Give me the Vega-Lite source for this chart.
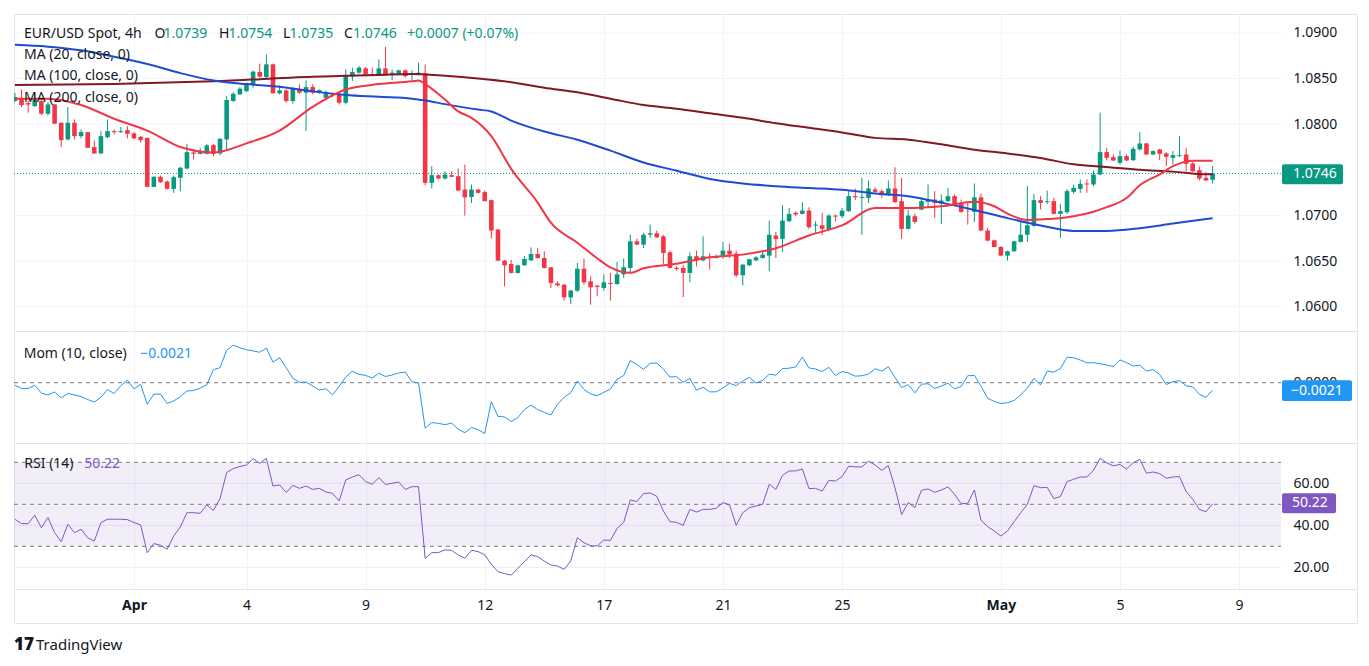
{
"$schema":"https://vega.github.io/schema/vega-lite/v6.json",
"background":"#ffffff",
"padding":{"left":13,"top":13,"right":0,"bottom":0},
"bounds":"flush",
"spacing":0,
"config":{"view":{"stroke":"#e0e3eb","strokeWidth":1},"font":"Noto Sans","text":{"font":"Noto Sans"},"scale":{"continuousPadding":0}},
"datasets":{
"candles":[
{"i":0,"o":1.08254,"h":1.08345,"l":1.0824,"c":1.08298},
{"i":1,"o":1.08279,"h":1.08382,"l":1.08188,"c":1.0821},
{"i":2,"o":1.08232,"h":1.08254,"l":1.08126,"c":1.08217},
{"i":3,"o":1.08199,"h":1.08345,"l":1.08188,"c":1.08272},
{"i":4,"o":1.08254,"h":1.08272,"l":1.081,"c":1.08115},
{"i":5,"o":1.08115,"h":1.08243,"l":1.08096,"c":1.08217},
{"i":6,"o":1.08217,"h":1.08224,"l":1.08005,"c":1.08005},
{"i":7,"o":1.08016,"h":1.08016,"l":1.07749,"c":1.07825},
{"i":8,"o":1.07833,"h":1.08188,"l":1.07825,"c":1.08016},
{"i":9,"o":1.08016,"h":1.08052,"l":1.07833,"c":1.07869},
{"i":10,"o":1.07869,"h":1.07942,"l":1.07844,"c":1.07913},
{"i":11,"o":1.07913,"h":1.07913,"l":1.07741,"c":1.07741},
{"i":12,"o":1.07749,"h":1.07822,"l":1.07675,"c":1.07679},
{"i":13,"o":1.07679,"h":1.07924,"l":1.07675,"c":1.07869},
{"i":14,"o":1.07858,"h":1.08052,"l":1.07844,"c":1.07924},
{"i":15,"o":1.07924,"h":1.07942,"l":1.07888,"c":1.07913},
{"i":16,"o":1.07913,"h":1.07968,"l":1.07906,"c":1.07924},
{"i":17,"o":1.07935,"h":1.07979,"l":1.07844,"c":1.07895},
{"i":18,"o":1.07899,"h":1.07913,"l":1.07833,"c":1.07844},
{"i":19,"o":1.07862,"h":1.07869,"l":1.07796,"c":1.07825},
{"i":20,"o":1.07851,"h":1.07851,"l":1.07313,"c":1.07313},
{"i":21,"o":1.07313,"h":1.0743,"l":1.07309,"c":1.07423},
{"i":22,"o":1.07423,"h":1.07437,"l":1.07357,"c":1.07364},
{"i":23,"o":1.07372,"h":1.07383,"l":1.07284,"c":1.07291},
{"i":24,"o":1.07291,"h":1.07437,"l":1.07247,"c":1.07419},
{"i":25,"o":1.07412,"h":1.07533,"l":1.07266,"c":1.07522},
{"i":26,"o":1.07514,"h":1.07785,"l":1.07507,"c":1.07694},
{"i":27,"o":1.0769,"h":1.07723,"l":1.07613,"c":1.07675},
{"i":28,"o":1.07675,"h":1.07741,"l":1.07668,"c":1.07694},
{"i":29,"o":1.07675,"h":1.07785,"l":1.07668,"c":1.07767},
{"i":30,"o":1.07771,"h":1.07785,"l":1.07649,"c":1.07675},
{"i":31,"o":1.07679,"h":1.07851,"l":1.0766,"c":1.0784},
{"i":32,"o":1.07833,"h":1.08309,"l":1.07723,"c":1.08265},
{"i":33,"o":1.08254,"h":1.08352,"l":1.08246,"c":1.08334},
{"i":34,"o":1.08327,"h":1.08407,"l":1.0832,"c":1.08389},
{"i":35,"o":1.08363,"h":1.08455,"l":1.08352,"c":1.08437},
{"i":36,"o":1.08426,"h":1.0859,"l":1.084,"c":1.08576},
{"i":37,"o":1.08572,"h":1.08664,"l":1.0851,"c":1.08521},
{"i":38,"o":1.08517,"h":1.08766,"l":1.08502,"c":1.08656},
{"i":39,"o":1.08656,"h":1.08664,"l":1.08338,"c":1.08338},
{"i":40,"o":1.08338,"h":1.08426,"l":1.08327,"c":1.08371},
{"i":41,"o":1.08371,"h":1.08382,"l":1.08235,"c":1.08254},
{"i":42,"o":1.08254,"h":1.08407,"l":1.08224,"c":1.08389},
{"i":43,"o":1.08382,"h":1.08437,"l":1.08334,"c":1.08345},
{"i":44,"o":1.08345,"h":1.08481,"l":1.07924,"c":1.08407},
{"i":45,"o":1.08407,"h":1.08437,"l":1.08327,"c":1.08345},
{"i":46,"o":1.08345,"h":1.08382,"l":1.08334,"c":1.08374},
{"i":47,"o":1.0829,"h":1.08371,"l":1.08283,"c":1.08352},
{"i":48,"o":1.08327,"h":1.08345,"l":1.08298,"c":1.0832},
{"i":49,"o":1.08334,"h":1.08345,"l":1.08217,"c":1.08235},
{"i":50,"o":1.08235,"h":1.08601,"l":1.08217,"c":1.08528},
{"i":51,"o":1.08521,"h":1.0862,"l":1.08473,"c":1.08572},
{"i":52,"o":1.08565,"h":1.08638,"l":1.08554,"c":1.0862},
{"i":53,"o":1.08612,"h":1.08627,"l":1.08528,"c":1.08546},
{"i":54,"o":1.08546,"h":1.0862,"l":1.08528,"c":1.08535},
{"i":55,"o":1.08535,"h":1.08711,"l":1.08528,"c":1.08612},
{"i":56,"o":1.08612,"h":1.08847,"l":1.08528,"c":1.08546},
{"i":57,"o":1.08554,"h":1.08601,"l":1.08481,"c":1.08565},
{"i":58,"o":1.08554,"h":1.08598,"l":1.08546,"c":1.0859},
{"i":59,"o":1.0859,"h":1.08601,"l":1.0851,"c":1.08528},
{"i":60,"o":1.08539,"h":1.0859,"l":1.08481,"c":1.08554},
{"i":61,"o":1.08546,"h":1.08675,"l":1.08535,"c":1.08565},
{"i":62,"o":1.08557,"h":1.08656,"l":1.07331,"c":1.07357},
{"i":63,"o":1.07357,"h":1.0754,"l":1.07295,"c":1.07441},
{"i":64,"o":1.07441,"h":1.07448,"l":1.07394,"c":1.07404},
{"i":65,"o":1.07404,"h":1.07485,"l":1.07394,"c":1.07448},
{"i":66,"o":1.07441,"h":1.07485,"l":1.07419,"c":1.07423},
{"i":67,"o":1.0743,"h":1.07514,"l":1.07266,"c":1.07273},
{"i":68,"o":1.07284,"h":1.07558,"l":1.06998,"c":1.07198},
{"i":69,"o":1.07202,"h":1.07339,"l":1.07137,"c":1.07284},
{"i":70,"o":1.07284,"h":1.07291,"l":1.0724,"c":1.07247},
{"i":71,"o":1.07256,"h":1.07273,"l":1.07156,"c":1.07156},
{"i":72,"o":1.07167,"h":1.07174,"l":1.06746,"c":1.06834},
{"i":73,"o":1.06845,"h":1.06852,"l":1.06497,"c":1.06504},
{"i":74,"o":1.06504,"h":1.06511,"l":1.06222,"c":1.06453},
{"i":75,"o":1.06467,"h":1.06511,"l":1.06365,"c":1.06369},
{"i":76,"o":1.06369,"h":1.0646,"l":1.06361,"c":1.06453},
{"i":77,"o":1.06453,"h":1.06552,"l":1.06449,"c":1.06522},
{"i":78,"o":1.06508,"h":1.0665,"l":1.06497,"c":1.06577},
{"i":79,"o":1.06577,"h":1.06643,"l":1.06526,"c":1.06533},
{"i":80,"o":1.06533,"h":1.06607,"l":1.06416,"c":1.06424},
{"i":81,"o":1.06431,"h":1.06435,"l":1.06204,"c":1.06259},
{"i":82,"o":1.06255,"h":1.06277,"l":1.06222,"c":1.06233},
{"i":83,"o":1.0624,"h":1.06248,"l":1.06065,"c":1.06101},
{"i":84,"o":1.06101,"h":1.06186,"l":1.06028,"c":1.06175},
{"i":85,"o":1.06175,"h":1.06479,"l":1.0616,"c":1.06416},
{"i":86,"o":1.06416,"h":1.06526,"l":1.0624,"c":1.06266},
{"i":87,"o":1.06277,"h":1.06333,"l":1.06021,"c":1.06211},
{"i":88,"o":1.06229,"h":1.0624,"l":1.06113,"c":1.06215},
{"i":89,"o":1.06204,"h":1.06354,"l":1.06175,"c":1.06266},
{"i":90,"o":1.06259,"h":1.06369,"l":1.06065,"c":1.06248},
{"i":91,"o":1.06248,"h":1.0649,"l":1.0624,"c":1.06354},
{"i":92,"o":1.06354,"h":1.06526,"l":1.06314,"c":1.06431},
{"i":93,"o":1.06424,"h":1.06788,"l":1.06369,"c":1.06716},
{"i":94,"o":1.06716,"h":1.06746,"l":1.06672,"c":1.0668},
{"i":95,"o":1.0668,"h":1.06808,"l":1.06643,"c":1.06788},
{"i":96,"o":1.06788,"h":1.06899,"l":1.06753,"c":1.06804},
{"i":97,"o":1.06804,"h":1.06834,"l":1.06753,"c":1.0676},
{"i":98,"o":1.06771,"h":1.06788,"l":1.06467,"c":1.06588},
{"i":99,"o":1.06596,"h":1.06614,"l":1.06416,"c":1.06424},
{"i":100,"o":1.06424,"h":1.06442,"l":1.06394,"c":1.06413},
{"i":101,"o":1.06424,"h":1.06453,"l":1.06105,"c":1.06369},
{"i":102,"o":1.06369,"h":1.06596,"l":1.0627,"c":1.06552},
{"i":103,"o":1.06552,"h":1.06614,"l":1.0644,"c":1.06504},
{"i":104,"o":1.06508,"h":1.06771,"l":1.06497,"c":1.06552},
{"i":105,"o":1.06544,"h":1.06588,"l":1.06405,"c":1.06533},
{"i":106,"o":1.06533,"h":1.0657,"l":1.06526,"c":1.06552},
{"i":107,"o":1.06563,"h":1.0671,"l":1.06526,"c":1.06614},
{"i":108,"o":1.06614,"h":1.06687,"l":1.06533,"c":1.0657},
{"i":109,"o":1.06581,"h":1.06614,"l":1.06321,"c":1.06343},
{"i":110,"o":1.06343,"h":1.06471,"l":1.06233,"c":1.0646},
{"i":111,"o":1.06453,"h":1.06526,"l":1.06442,"c":1.06519},
{"i":112,"o":1.06508,"h":1.06552,"l":1.06497,"c":1.06541},
{"i":113,"o":1.06533,"h":1.06607,"l":1.06526,"c":1.0657},
{"i":114,"o":1.06559,"h":1.06943,"l":1.06387,"c":1.06788},
{"i":115,"o":1.06779,"h":1.0682,"l":1.06533,"c":1.06742},
{"i":116,"o":1.06742,"h":1.07112,"l":1.06599,"c":1.06943},
{"i":117,"o":1.06936,"h":1.07082,"l":1.06925,"c":1.07017},
{"i":118,"o":1.07028,"h":1.07046,"l":1.06991,"c":1.0701},
{"i":119,"o":1.07017,"h":1.07145,"l":1.0701,"c":1.07053},
{"i":120,"o":1.07053,"h":1.0709,"l":1.06852,"c":1.0687},
{"i":121,"o":1.06888,"h":1.06936,"l":1.06808,"c":1.06899},
{"i":122,"o":1.06892,"h":1.07028,"l":1.06788,"c":1.06852},
{"i":123,"o":1.06845,"h":1.07017,"l":1.06826,"c":1.06998},
{"i":124,"o":1.06998,"h":1.07009,"l":1.06936,"c":1.06987},
{"i":125,"o":1.06991,"h":1.07082,"l":1.06972,"c":1.07053},
{"i":126,"o":1.07046,"h":1.07273,"l":1.07039,"c":1.07211},
{"i":127,"o":1.07211,"h":1.07295,"l":1.07167,"c":1.07198},
{"i":128,"o":1.07192,"h":1.07412,"l":1.06788,"c":1.07203},
{"i":129,"o":1.07192,"h":1.07383,"l":1.07137,"c":1.07295},
{"i":130,"o":1.07284,"h":1.07309,"l":1.07251,"c":1.07258},
{"i":131,"o":1.07266,"h":1.07284,"l":1.07192,"c":1.07222},
{"i":132,"o":1.07222,"h":1.07383,"l":1.07211,"c":1.07295},
{"i":133,"o":1.07295,"h":1.07529,"l":1.07137,"c":1.07145},
{"i":134,"o":1.07156,"h":1.07412,"l":1.06742,"c":1.06852},
{"i":135,"o":1.06852,"h":1.07064,"l":1.06845,"c":1.06998},
{"i":136,"o":1.06991,"h":1.07017,"l":1.0691,"c":1.06929},
{"i":137,"o":1.07064,"h":1.07198,"l":1.07057,"c":1.07156},
{"i":138,"o":1.07148,"h":1.07339,"l":1.07082,"c":1.07174},
{"i":139,"o":1.07174,"h":1.07266,"l":1.06973,"c":1.07137},
{"i":140,"o":1.0713,"h":1.07229,"l":1.06907,"c":1.07163},
{"i":141,"o":1.07156,"h":1.07302,"l":1.07148,"c":1.07211},
{"i":142,"o":1.07211,"h":1.07229,"l":1.07119,"c":1.07126},
{"i":143,"o":1.07137,"h":1.07174,"l":1.07028,"c":1.07039},
{"i":144,"o":1.0705,"h":1.07137,"l":1.06899,"c":1.07046},
{"i":145,"o":1.07039,"h":1.0735,"l":1.06925,"c":1.07198},
{"i":146,"o":1.07198,"h":1.0724,"l":1.06826,"c":1.06834},
{"i":147,"o":1.06834,"h":1.06863,"l":1.06716,"c":1.06724},
{"i":148,"o":1.06727,"h":1.06735,"l":1.0665,"c":1.06654},
{"i":149,"o":1.06654,"h":1.06661,"l":1.06552,"c":1.06559},
{"i":150,"o":1.06559,"h":1.06614,"l":1.06504,"c":1.06607},
{"i":151,"o":1.06607,"h":1.06724,"l":1.066,"c":1.06716},
{"i":152,"o":1.0671,"h":1.06925,"l":1.06702,"c":1.06788},
{"i":153,"o":1.06788,"h":1.0732,"l":1.0671,"c":1.06892},
{"i":154,"o":1.06885,"h":1.07236,"l":1.06874,"c":1.07167},
{"i":155,"o":1.07167,"h":1.07211,"l":1.07064,"c":1.07137},
{"i":156,"o":1.07145,"h":1.07273,"l":1.07126,"c":1.07156},
{"i":157,"o":1.07156,"h":1.07192,"l":1.0701,"c":1.07017},
{"i":158,"o":1.07017,"h":1.07126,"l":1.06753,"c":1.07046},
{"i":159,"o":1.07035,"h":1.07291,"l":1.07017,"c":1.07266},
{"i":160,"o":1.07258,"h":1.07339,"l":1.07236,"c":1.07302},
{"i":161,"o":1.07291,"h":1.07394,"l":1.07247,"c":1.07346},
{"i":162,"o":1.0735,"h":1.07394,"l":1.07247,"c":1.07339},
{"i":163,"o":1.07339,"h":1.07492,"l":1.0732,"c":1.07448},
{"i":164,"o":1.07448,"h":1.08126,"l":1.07441,"c":1.07694},
{"i":165,"o":1.07694,"h":1.07741,"l":1.07602,"c":1.07631},
{"i":166,"o":1.07639,"h":1.07668,"l":1.07595,"c":1.07602},
{"i":167,"o":1.07577,"h":1.07712,"l":1.07558,"c":1.0765},
{"i":168,"o":1.0765,"h":1.07668,"l":1.07595,"c":1.07602},
{"i":169,"o":1.07606,"h":1.07752,"l":1.07595,"c":1.0773},
{"i":170,"o":1.07723,"h":1.07913,"l":1.07712,"c":1.07789},
{"i":171,"o":1.07789,"h":1.07796,"l":1.0766,"c":1.07668},
{"i":172,"o":1.07668,"h":1.07712,"l":1.0766,"c":1.07705},
{"i":173,"o":1.07723,"h":1.0773,"l":1.07606,"c":1.07675},
{"i":174,"o":1.07679,"h":1.07694,"l":1.0754,"c":1.07642},
{"i":175,"o":1.07631,"h":1.07705,"l":1.07558,"c":1.0766},
{"i":176,"o":1.0765,"h":1.07869,"l":1.07639,"c":1.0766},
{"i":177,"o":1.07668,"h":1.07741,"l":1.07485,"c":1.07565},
{"i":178,"o":1.07569,"h":1.07588,"l":1.07478,"c":1.07485},
{"i":179,"o":1.07496,"h":1.07533,"l":1.07383,"c":1.07404},
{"i":180,"o":1.07412,"h":1.07478,"l":1.07375,"c":1.07383},
{"i":181,"o":1.0739,"h":1.0754,"l":1.0735,"c":1.0746}
],
"ma":[
{"s":"MA200","i":0,"v":1.0843},{"s":"MA200","i":15,"v":1.0844},{"s":"MA200","i":30,"v":1.0847},{"s":"MA200","i":45,"v":1.0852},{"s":"MA200","i":50,"v":1.0853},{"s":"MA200","i":55,"v":1.0854},{"s":"MA200","i":60,"v":1.0855},{"s":"MA200","i":65,"v":1.0853},{"s":"MA200","i":70,"v":1.085},{"s":"MA200","i":75,"v":1.0846},{"s":"MA200","i":80,"v":1.084},{"s":"MA200","i":85,"v":1.0835},{"s":"MA200","i":90,"v":1.0828},{"s":"MA200","i":95,"v":1.0821},{"s":"MA200","i":100,"v":1.0817},{"s":"MA200","i":105,"v":1.0812},{"s":"MA200","i":110,"v":1.0807},{"s":"MA200","i":115,"v":1.0801},{"s":"MA200","i":120,"v":1.0796},{"s":"MA200","i":125,"v":1.0791},{"s":"MA200","i":130,"v":1.0785},{"s":"MA200","i":135,"v":1.0783},{"s":"MA200","i":140,"v":1.0778},{"s":"MA200","i":145,"v":1.0772},{"s":"MA200","i":150,"v":1.0768},{"s":"MA200","i":155,"v":1.0763},{"s":"MA200","i":160,"v":1.0756},{"s":"MA200","i":165,"v":1.0753},{"s":"MA200","i":170,"v":1.075},{"s":"MA200","i":175,"v":1.0748},{"s":"MA200","i":180,"v":1.0745},{"s":"MA200","i":181,"v":1.0745},
{"s":"MA100","i":0,"v":1.0887},{"s":"MA100","i":5,"v":1.0885},{"s":"MA100","i":10,"v":1.0881},{"s":"MA100","i":15,"v":1.0874},{"s":"MA100","i":20,"v":1.0866},{"s":"MA100","i":25,"v":1.0856},{"s":"MA100","i":30,"v":1.0848},{"s":"MA100","i":35,"v":1.0844},{"s":"MA100","i":40,"v":1.0841},{"s":"MA100","i":45,"v":1.0836},{"s":"MA100","i":50,"v":1.0832},{"s":"MA100","i":55,"v":1.083},{"s":"MA100","i":60,"v":1.0828},{"s":"MA100","i":62,"v":1.0826},{"s":"MA100","i":65,"v":1.0822},{"s":"MA100","i":70,"v":1.0816},{"s":"MA100","i":72,"v":1.0814},{"s":"MA100","i":75,"v":1.0804},{"s":"MA100","i":80,"v":1.0792},{"s":"MA100","i":85,"v":1.0783},{"s":"MA100","i":90,"v":1.0771},{"s":"MA100","i":95,"v":1.0758},{"s":"MA100","i":100,"v":1.0749},{"s":"MA100","i":105,"v":1.074},{"s":"MA100","i":110,"v":1.0735},{"s":"MA100","i":115,"v":1.0732},{"s":"MA100","i":120,"v":1.073},{"s":"MA100","i":125,"v":1.0728},{"s":"MA100","i":130,"v":1.0724},{"s":"MA100","i":135,"v":1.0721},{"s":"MA100","i":140,"v":1.0714},{"s":"MA100","i":145,"v":1.0706},{"s":"MA100","i":150,"v":1.0697},{"s":"MA100","i":155,"v":1.0689},{"s":"MA100","i":160,"v":1.0683},{"s":"MA100","i":165,"v":1.0683},{"s":"MA100","i":170,"v":1.0686},{"s":"MA100","i":175,"v":1.0691},{"s":"MA100","i":180,"v":1.0696},{"s":"MA100","i":181,"v":1.0697},
{"s":"MA20","i":0,"v":1.0828},{"s":"MA20","i":5,"v":1.0828},{"s":"MA20","i":10,"v":1.0821},{"s":"MA20","i":15,"v":1.0806},{"s":"MA20","i":20,"v":1.0793},{"s":"MA20","i":25,"v":1.0775},{"s":"MA20","i":30,"v":1.0769},{"s":"MA20","i":35,"v":1.0779},{"s":"MA20","i":40,"v":1.0793},{"s":"MA20","i":45,"v":1.0819},{"s":"MA20","i":50,"v":1.0838},{"s":"MA20","i":55,"v":1.0844},{"s":"MA20","i":60,"v":1.0847},{"s":"MA20","i":61,"v":1.0848},{"s":"MA20","i":62,"v":1.0844},{"s":"MA20","i":65,"v":1.0827},{"s":"MA20","i":67,"v":1.0814},{"s":"MA20","i":69,"v":1.0807},{"s":"MA20","i":72,"v":1.0787},{"s":"MA20","i":75,"v":1.0751},{"s":"MA20","i":79,"v":1.0714},{"s":"MA20","i":81,"v":1.0692},{"s":"MA20","i":85,"v":1.067},{"s":"MA20","i":88,"v":1.0653},{"s":"MA20","i":90,"v":1.0643},{"s":"MA20","i":93,"v":1.0637},{"s":"MA20","i":95,"v":1.0642},{"s":"MA20","i":100,"v":1.0647},{"s":"MA20","i":105,"v":1.0654},{"s":"MA20","i":110,"v":1.0657},{"s":"MA20","i":115,"v":1.0664},{"s":"MA20","i":120,"v":1.0678},{"s":"MA20","i":125,"v":1.0689},{"s":"MA20","i":130,"v":1.0708},{"s":"MA20","i":135,"v":1.0708},{"s":"MA20","i":140,"v":1.071},{"s":"MA20","i":145,"v":1.0715},{"s":"MA20","i":148,"v":1.071},{"s":"MA20","i":150,"v":1.0702},{"s":"MA20","i":153,"v":1.0695},{"s":"MA20","i":156,"v":1.0696},{"s":"MA20","i":158,"v":1.0697},{"s":"MA20","i":160,"v":1.0699},{"s":"MA20","i":163,"v":1.0704},{"s":"MA20","i":165,"v":1.0709},{"s":"MA20","i":168,"v":1.0719},{"s":"MA20","i":170,"v":1.0733},{"s":"MA20","i":173,"v":1.0745},{"s":"MA20","i":175,"v":1.0754},{"s":"MA20","i":178,"v":1.076},{"s":"MA20","i":181,"v":1.076}
],
"mom":[
{"i":0,"m":-0.0007},{"i":1,"m":-0.0016},{"i":2,"m":-0.0016},{"i":3,"m":-0.0007},{"i":4,"m":-0.0029},{"i":5,"m":-0.0034},{"i":6,"m":-0.0026},{"i":7,"m":-0.0042},{"i":8,"m":-0.003},{"i":9,"m":-0.0034},
{"i":10,"m":-0.00385},{"i":11,"m":-0.00469},{"i":12,"m":-0.00538},{"i":13,"m":-0.00403},{"i":14,"m":-0.00191},{"i":15,"m":-0.00304},{"i":16,"m":-0.00081},{"i":17,"m":0.0007},{"i":18,"m":-0.00172},{"i":19,"m":-0.00044},
{"i":20,"m":-0.006},{"i":21,"m":-0.00318},{"i":22,"m":-0.00315},{"i":23,"m":-0.00578},{"i":24,"m":-0.00505},{"i":25,"m":-0.00391},{"i":26,"m":-0.0023},{"i":27,"m":-0.0022},{"i":28,"m":-0.0015},{"i":29,"m":-0.00058},
{"i":30,"m":0.00362},{"i":31,"m":0.00417},{"i":32,"m":0.00901},{"i":33,"m":0.01043},{"i":34,"m":0.0097},{"i":35,"m":0.00915},{"i":36,"m":0.00882},{"i":37,"m":0.00846},{"i":38,"m":0.00962},{"i":39,"m":0.00571},
{"i":40,"m":0.00696},{"i":41,"m":0.00414},{"i":42,"m":0.00124},{"i":43,"m":0.00011},{"i":44,"m":0.00018},{"i":45,"m":-0.00092},{"i":46,"m":-0.00202},{"i":47,"m":-0.00169},{"i":48,"m":-0.00336},{"i":49,"m":-0.00103},
{"i":50,"m":0.00157},{"i":51,"m":0.00318},{"i":52,"m":0.00231},{"i":53,"m":0.00201},{"i":54,"m":0.00128},{"i":55,"m":0.00267},{"i":56,"m":0.00172},{"i":57,"m":0.00213},{"i":58,"m":0.0027},{"i":59,"m":0.00293},
{"i":60,"m":0.00026},{"i":61,"m":-0.00007},{"i":62,"m":-0.01263},{"i":63,"m":-0.01105},{"i":64,"m":-0.01131},{"i":65,"m":-0.01164},{"i":66,"m":-0.01123},{"i":67,"m":-0.01292},{"i":68,"m":-0.01392},{"i":69,"m":-0.01244},
{"i":70,"m":-0.01307},{"i":71,"m":-0.01409},{"i":72,"m":-0.00523},{"i":73,"m":-0.00937},{"i":74,"m":-0.00951},{"i":75,"m":-0.01079},{"i":76,"m":-0.0097},{"i":77,"m":-0.00751},{"i":78,"m":-0.00621},{"i":79,"m":-0.00751},
{"i":80,"m":-0.00823},{"i":81,"m":-0.00897},{"i":82,"m":-0.00601},{"i":83,"m":-0.00403},{"i":84,"m":-0.00278},{"i":85,"m":0.00047},{"i":86,"m":-0.00187},{"i":87,"m":-0.00311},{"i":88,"m":-0.00362},{"i":89,"m":-0.00267},
{"i":90,"m":-0.00176},{"i":91,"m":0.00095},{"i":92,"m":0.00198},{"i":93,"m":0.00615},{"i":94,"m":0.00505},{"i":95,"m":0.00372},{"i":96,"m":0.00538},{"i":97,"m":0.00549},{"i":98,"m":0.00373},{"i":99,"m":0.00158},
{"i":100,"m":0.00165},{"i":101,"m":0.00015},{"i":102,"m":0.00121},{"i":103,"m":-0.00212},{"i":104,"m":-0.00128},{"i":105,"m":-0.00255},{"i":106,"m":-0.00252},{"i":107,"m":-0.00146},{"i":108,"m":-0.00018},{"i":109,"m":-0.00081},
{"i":110,"m":0.00047},{"i":111,"m":0.0015},{"i":112,"m":-0.00011},{"i":113,"m":0.00066},{"i":114,"m":0.00236},{"i":115,"m":0.00209},{"i":116,"m":0.00391},{"i":117,"m":0.00403},{"i":118,"m":0.0044},{"i":119,"m":0.0071},
{"i":120,"m":0.0041},{"i":121,"m":0.0038},{"i":122,"m":0.00311},{"i":123,"m":0.00428},{"i":124,"m":0.00199},{"i":125,"m":0.00311},{"i":126,"m":0.00268},{"i":127,"m":0.00181},{"i":128,"m":0.00193},{"i":129,"m":0.00242},
{"i":130,"m":0.00388},{"i":131,"m":0.00323},{"i":132,"m":0.00443},{"i":133,"m":0.00147},{"i":134,"m":-0.00135},{"i":135,"m":-0.00055},{"i":136,"m":-0.00282},{"i":137,"m":-0.00042},{"i":138,"m":-0.00029},{"i":139,"m":-0.00158},
{"i":140,"m":-0.00095},{"i":141,"m":-0.00011},{"i":142,"m":-0.00169},{"i":143,"m":-0.00106},{"i":144,"m":0.00194},{"i":145,"m":0.002},{"i":146,"m":-0.00095},{"i":147,"m":-0.00432},{"i":148,"m":-0.0052},{"i":149,"m":-0.00578},
{"i":150,"m":-0.00556},{"i":151,"m":-0.00495},{"i":152,"m":-0.00338},{"i":153,"m":-0.00147},{"i":154,"m":0.00121},{"i":155,"m":-0.00061},{"i":156,"m":0.00322},{"i":157,"m":0.00293},{"i":158,"m":0.00392},{"i":159,"m":0.00707},
{"i":160,"m":0.00695},{"i":161,"m":0.0063},{"i":162,"m":0.00551},{"i":163,"m":0.00556},{"i":164,"m":0.00527},{"i":165,"m":0.00494},{"i":166,"m":0.00446},{"i":167,"m":0.00633},{"i":168,"m":0.00556},{"i":169,"m":0.00464},
{"i":170,"m":0.00487},{"i":171,"m":0.00322},{"i":172,"m":0.00366},{"i":173,"m":0.00227},{"i":174,"m":-0.00052},{"i":175,"m":0.00029},{"i":176,"m":0.00058},{"i":177,"m":-0.00085},{"i":178,"m":-0.00117},{"i":179,"m":-0.00326},
{"i":180,"m":-0.00406},{"i":181,"m":-0.0021}
],
"rsi":[
{"i":0,"r":42.9},{"i":1,"r":40.8},{"i":2,"r":40.8},{"i":3,"r":44.8},{"i":4,"r":38.9},{"i":5,"r":43.7},{"i":6,"r":36.5},{"i":7,"r":32.2},{"i":8,"r":40.5},{"i":9,"r":36.5},
{"i":10,"r":38.1},{"i":11,"r":34.1},{"i":12,"r":32.5},{"i":13,"r":41.3},{"i":14,"r":42.9},{"i":15,"r":42.9},{"i":16,"r":42.9},{"i":17,"r":42.7},{"i":18,"r":41.3},{"i":19,"r":40.2},
{"i":20,"r":27.0},{"i":21,"r":31.3},{"i":22,"r":30.5},{"i":23,"r":28.6},{"i":24,"r":34.9},{"i":25,"r":39.2},{"i":26,"r":46.0},{"i":27,"r":46.0},{"i":28,"r":45.7},{"i":29,"r":49.7},
{"i":30,"r":47.1},{"i":31,"r":52.7},{"i":32,"r":65.1},{"i":33,"r":67.0},{"i":34,"r":68.0},{"i":35,"r":68.7},{"i":36,"r":71.7},{"i":37,"r":69.5},{"i":38,"r":71.9},{"i":39,"r":58.7},
{"i":40,"r":59.2},{"i":41,"r":55.6},{"i":42,"r":59.0},{"i":43,"r":57.6},{"i":44,"r":58.7},{"i":45,"r":57.1},{"i":46,"r":57.6},{"i":47,"r":55.9},{"i":48,"r":55.2},{"i":49,"r":51.6},
{"i":50,"r":61.6},{"i":51,"r":63.0},{"i":52,"r":64.1},{"i":53,"r":60.8},{"i":54,"r":59.5},{"i":55,"r":62.7},{"i":56,"r":59.5},{"i":57,"r":60.0},{"i":58,"r":60.6},{"i":59,"r":57.1},
{"i":60,"r":58.4},{"i":61,"r":58.4},{"i":62,"r":24.3},{"i":63,"r":27.0},{"i":64,"r":27.0},{"i":65,"r":28.3},{"i":66,"r":28.1},{"i":67,"r":25.9},{"i":68,"r":24.3},{"i":69,"r":28.1},
{"i":70,"r":27.5},{"i":71,"r":25.9},{"i":72,"r":21.5},{"i":73,"r":17.9},{"i":74,"r":17.0},{"i":75,"r":16.3},{"i":76,"r":19.5},{"i":77,"r":22.7},{"i":78,"r":25.9},{"i":79,"r":25.1},
{"i":80,"r":23.0},{"i":81,"r":21.1},{"i":82,"r":20.6},{"i":83,"r":19.0},{"i":84,"r":23.0},{"i":85,"r":34.1},{"i":86,"r":31.7},{"i":87,"r":30.2},{"i":88,"r":30.2},{"i":89,"r":33.0},
{"i":90,"r":32.8},{"i":91,"r":38.5},{"i":92,"r":41.3},{"i":93,"r":52.1},{"i":94,"r":51.3},{"i":95,"r":55.1},{"i":96,"r":55.4},{"i":97,"r":53.8},{"i":98,"r":46.8},{"i":99,"r":41.7},
{"i":100,"r":41.4},{"i":101,"r":40.0},{"i":102,"r":47.6},{"i":103,"r":46.3},{"i":104,"r":47.6},{"i":105,"r":47.6},{"i":106,"r":48.1},{"i":107,"r":50.8},{"i":108,"r":49.7},{"i":109,"r":40.0},
{"i":110,"r":46.0},{"i":111,"r":48.4},{"i":112,"r":49.2},{"i":113,"r":50.0},{"i":114,"r":59.5},{"i":115,"r":57.1},{"i":116,"r":63.8},{"i":117,"r":65.9},{"i":118,"r":65.9},{"i":119,"r":66.8},
{"i":120,"r":57.5},{"i":121,"r":57.6},{"i":122,"r":56.3},{"i":123,"r":61.4},{"i":124,"r":61.1},{"i":125,"r":63.2},{"i":126,"r":68.1},{"i":127,"r":67.8},{"i":128,"r":67.8},{"i":129,"r":70.6},
{"i":130,"r":68.7},{"i":131,"r":66.2},{"i":132,"r":68.4},{"i":133,"r":57.9},{"i":134,"r":45.1},{"i":135,"r":50.8},{"i":136,"r":48.4},{"i":137,"r":56.7},{"i":138,"r":57.3},{"i":139,"r":55.7},
{"i":140,"r":56.8},{"i":141,"r":58.3},{"i":142,"r":54.8},{"i":143,"r":50.3},{"i":144,"r":50.5},{"i":145,"r":56.8},{"i":146,"r":42.4},{"i":147,"r":39.4},{"i":148,"r":37.3},{"i":149,"r":34.9},
{"i":150,"r":37.3},{"i":151,"r":41.7},{"i":152,"r":46.0},{"i":153,"r":50.0},{"i":154,"r":58.9},{"i":155,"r":57.9},{"i":156,"r":58.1},{"i":157,"r":52.7},{"i":158,"r":53.7},{"i":159,"r":60.8},
{"i":160,"r":61.9},{"i":161,"r":63.0},{"i":162,"r":63.0},{"i":163,"r":66.2},{"i":164,"r":71.9},{"i":165,"r":69.7},{"i":166,"r":68.3},{"i":167,"r":69.0},{"i":168,"r":66.8},{"i":169,"r":69.8},
{"i":170,"r":71.4},{"i":171,"r":64.8},{"i":172,"r":65.4},{"i":173,"r":64.6},{"i":174,"r":62.4},{"i":175,"r":63.0},{"i":176,"r":63.2},{"i":177,"r":56.0},{"i":178,"r":52.4},{"i":179,"r":47.5},
{"i":180,"r":46.5},{"i":181,"r":50.22}
]
},
"vconcat":[
{
"width":1343,"height":317,
"resolve":{"axis":{"x":"independent","y":"independent"}},
"layer":[
{"data":{"values":[{"p":1.06},{"p":1.065},{"p":1.07},{"p":1.075},{"p":1.08},{"p":1.085},{"p":1.09}]},
 "mark":{"type":"rule","color":"#f0f3fa","strokeWidth":1},
 "encoding":{"x":{"datum":-0.136,"type":"quantitative","scale":{"domain":[-0.136,202.82],"nice":false,"zero":false,"padding":0},"axis":null},"x2":{"datum":191.34},
  "y":{"field":"p","type":"quantitative","scale":{"domain":[1.057325,1.092083],"nice":false,"zero":false},
   "axis":{"orient":"right","offset":-76,"values":[1.06,1.065,1.07,1.08,1.085,1.09],"format":".4f","grid":false,"ticks":false,"domain":false,"labelPadding":12,"labelAlign":"left","labelBaseline":"middle","labelColor":"#131722","labelFontSize":14,"labelFont":"Noto Sans","title":null}}}},
{"data":{"values":[{}]},
 "mark":{"type":"rule","color":"#089981","strokeDash":[1,2],"strokeWidth":1},
 "encoding":{"x":{"datum":-0.136,"type":"quantitative","axis":null},"x2":{"datum":191.34},
  "y":{"datum":1.0746,"type":"quantitative","axis":null}}},
{"data":{"name":"candles"},
 "mark":{"type":"rule","strokeWidth":1,"clip":true},
 "encoding":{"x":{"field":"i","type":"quantitative","scale":{"domain":[-0.136,202.82],"nice":false,"zero":false,"padding":0},
   "axis":{"values":[18,35,53,71,89,107,125,149,167,185],"grid":true,"gridColor":"#f0f3fa","labels":false,"ticks":false,"domain":false,"title":null}},
  "y":{"field":"l","type":"quantitative","axis":null},
  "y2":{"field":"h"},
  "color":{"condition":{"test":"datum.c >= datum.o","value":"#089981"},"value":"#F23645"}}},
{"data":{"name":"candles"},
 "mark":{"type":"bar","width":4.6,"clip":true},
 "encoding":{"x":{"field":"i","type":"quantitative","scale":{"domain":[-0.136,202.82],"nice":false,"zero":false,"padding":0},"axis":null},
  "y":{"field":"o","type":"quantitative","axis":null},
  "y2":{"field":"c"},
  "color":{"condition":{"test":"datum.c >= datum.o","value":"#089981"},"value":"#F23645"}}},
{"data":{"name":"ma"},
 "mark":{"type":"line","strokeWidth":2,"interpolate":"monotone","clip":true},
 "encoding":{"x":{"field":"i","type":"quantitative","axis":null},
  "y":{"field":"v","type":"quantitative","axis":null},
  "color":{"field":"s","type":"nominal","scale":{"domain":["MA200","MA100","MA20"],"range":["#801922","#1E4BD2","#F23645"]},"legend":null}}},
{"data":{"values":[{}]},"mark":{"type":"text","align":"left","baseline":"middle","fontSize":14,"color":"#131722","text":"EUR/USD Spot, 4h"},
 "encoding":{"x":{"datum":1.375,"type":"quantitative","axis":null},"y":{"datum":1.08989,"type":"quantitative","axis":null}}},
{"data":{"values":[{}]},"mark":{"type":"text","align":"left","baseline":"middle","fontSize":14,"color":"#131722","text":"O"},
 "encoding":{"x":{"datum":21.11,"type":"quantitative","axis":null},"y":{"datum":1.08989,"type":"quantitative","axis":null}}},
{"data":{"values":[{}]},"mark":{"type":"text","align":"left","baseline":"middle","fontSize":14,"color":"#089981","text":"1.0739"},
 "encoding":{"x":{"datum":22.46,"type":"quantitative","axis":null},"y":{"datum":1.08989,"type":"quantitative","axis":null}}},
{"data":{"values":[{}]},"mark":{"type":"text","align":"left","baseline":"middle","fontSize":14,"color":"#131722","text":"H"},
 "encoding":{"x":{"datum":30.84,"type":"quantitative","axis":null},"y":{"datum":1.08989,"type":"quantitative","axis":null}}},
{"data":{"values":[{}]},"mark":{"type":"text","align":"left","baseline":"middle","fontSize":14,"color":"#089981","text":"1.0754"},
 "encoding":{"x":{"datum":32.28,"type":"quantitative","axis":null},"y":{"datum":1.08989,"type":"quantitative","axis":null}}},
{"data":{"values":[{}]},"mark":{"type":"text","align":"left","baseline":"middle","fontSize":14,"color":"#131722","text":"L"},
 "encoding":{"x":{"datum":40.52,"type":"quantitative","axis":null},"y":{"datum":1.08989,"type":"quantitative","axis":null}}},
{"data":{"values":[{}]},"mark":{"type":"text","align":"left","baseline":"middle","fontSize":14,"color":"#089981","text":"1.0735"},
 "encoding":{"x":{"datum":41.51,"type":"quantitative","axis":null},"y":{"datum":1.08989,"type":"quantitative","axis":null}}},
{"data":{"values":[{}]},"mark":{"type":"text","align":"left","baseline":"middle","fontSize":14,"color":"#131722","text":"C"},
 "encoding":{"x":{"datum":49.74,"type":"quantitative","axis":null},"y":{"datum":1.08989,"type":"quantitative","axis":null}}},
{"data":{"values":[{}]},"mark":{"type":"text","align":"left","baseline":"middle","fontSize":14,"color":"#089981","text":"1.0746"},
 "encoding":{"x":{"datum":51.1,"type":"quantitative","axis":null},"y":{"datum":1.08989,"type":"quantitative","axis":null}}},
{"data":{"values":[{}]},"mark":{"type":"text","align":"left","baseline":"middle","fontSize":14,"color":"#089981","text":"+0.0007 (+0.07%)"},
 "encoding":{"x":{"datum":59.25,"type":"quantitative","axis":null},"y":{"datum":1.08989,"type":"quantitative","axis":null}}},
{"data":{"values":[{}]},"mark":{"type":"text","align":"left","baseline":"middle","fontSize":14,"color":"#131722","text":"MA (20, close, 0)"},
 "encoding":{"x":{"datum":1.375,"type":"quantitative","axis":null},"y":{"datum":1.08759,"type":"quantitative","axis":null}}},
{"data":{"values":[{}]},"mark":{"type":"text","align":"left","baseline":"middle","fontSize":14,"color":"#131722","text":"MA (100, close, 0)"},
 "encoding":{"x":{"datum":1.375,"type":"quantitative","axis":null},"y":{"datum":1.08529,"type":"quantitative","axis":null}}},
{"data":{"values":[{}]},"mark":{"type":"text","align":"left","baseline":"middle","fontSize":14,"color":"#131722","text":"MA (200, close, 0)"},
 "encoding":{"x":{"datum":1.375,"type":"quantitative","axis":null},"y":{"datum":1.08287,"type":"quantitative","axis":null}}},
{"data":{"values":[{}]},"mark":{"type":"rect","color":"#089981","cornerRadius":2},
 "encoding":{"x":{"datum":191.49,"type":"quantitative","axis":null},"x2":{"datum":200.71},"y":{"datum":1.07341,"type":"quantitative","axis":null},"y2":{"datum":1.0756}}},
{"data":{"values":[{}]},"mark":{"type":"text","align":"left","baseline":"middle","fontSize":14,"color":"#ffffff","text":"1.0746"},
 "encoding":{"x":{"datum":193.15,"type":"quantitative","axis":null},"y":{"datum":1.07451,"type":"quantitative","axis":null}}}
]
},
{
"width":1343,"height":112,
"resolve":{"axis":{"x":"independent","y":"independent"}},
"layer":[
{"data":{"values":[{}]},
 "mark":{"type":"rule","color":"#787B86","strokeDash":[4,4],"strokeWidth":1},
 "encoding":{"x":{"datum":-0.136,"type":"quantitative","scale":{"domain":[-0.136,202.82],"nice":false,"zero":false,"padding":0},"axis":null},"x2":{"datum":191.34},
  "y":{"datum":0,"type":"quantitative","scale":{"domain":[-0.01675,0.01436],"nice":false,"zero":false},"axis":null}}},
{"data":{"name":"mom"},
 "mark":{"type":"line","color":"#2196F3","strokeWidth":1,"clip":true},
 "encoding":{"x":{"field":"i","type":"quantitative","scale":{"domain":[-0.136,202.82],"nice":false,"zero":false,"padding":0},
   "axis":{"values":[18,35,53,71,89,107,125,149,167,185],"grid":true,"gridColor":"#f0f3fa","labels":false,"ticks":false,"domain":false,"title":null}},
  "y":{"field":"m","type":"quantitative","scale":{"domain":[-0.01675,0.01436],"nice":false,"zero":false},
   "axis":{"orient":"right","offset":-76,"values":[0],"format":".4f","grid":false,"ticks":false,"domain":false,"labelPadding":12,"labelAlign":"left","labelBaseline":"middle","labelColor":"#131722","labelFontSize":14,"labelFont":"Noto Sans","title":null}}}},
{"data":{"values":[{}]},"mark":{"type":"text","align":"left","baseline":"middle","fontSize":14,"color":"#131722","text":"Mom (10, close)"},
 "encoding":{"x":{"datum":1.33,"type":"quantitative","axis":null},"y":{"datum":0.00806,"type":"quantitative","axis":null}}},
{"data":{"values":[{}]},"mark":{"type":"text","align":"left","baseline":"middle","fontSize":14,"color":"#2196F3","text":"−0.0021"},
 "encoding":{"x":{"datum":18.95,"type":"quantitative","axis":null},"y":{"datum":0.00806,"type":"quantitative","axis":null}}},
{"data":{"values":[{}]},"mark":{"type":"rect","color":"#2196F3","cornerRadius":2},
 "encoding":{"x":{"datum":191.49,"type":"quantitative","axis":null},"x2":{"datum":202.07},"y":{"datum":-0.00508,"type":"quantitative","axis":null},"y2":{"datum":0.00067}}},
{"data":{"values":[{}]},"mark":{"type":"text","align":"left","baseline":"middle","fontSize":14,"color":"#ffffff","text":"−0.0021"},
 "encoding":{"x":{"datum":192.85,"type":"quantitative","axis":null},"y":{"datum":-0.00222,"type":"quantitative","axis":null}}}
]
},
{
"width":1343,"height":146,
"resolve":{"axis":{"x":"independent","y":"independent"}},
"layer":[
{"data":{"values":[{"g":20},{"g":40},{"g":60}]},
 "mark":{"type":"rule","color":"#eceef4","strokeWidth":1},
 "encoding":{"x":{"datum":-0.136,"type":"quantitative","scale":{"domain":[-0.136,202.82],"nice":false,"zero":false,"padding":0},"axis":null},"x2":{"datum":191.34},
  "y":{"field":"g","type":"quantitative","scale":{"domain":[9.67,79.19],"nice":false,"zero":false},
   "axis":{"orient":"right","offset":-76,"values":[20,40,60],"format":".2f","grid":false,"ticks":false,"domain":false,"labelPadding":12,"labelAlign":"left","labelBaseline":"middle","labelColor":"#131722","labelFontSize":14,"labelFont":"Noto Sans","title":null}}}},
{"data":{"values":[{}]},
 "mark":{"type":"rect","color":"#7E57C2","opacity":0.1},
 "encoding":{"x":{"datum":-0.136,"type":"quantitative","axis":null},"x2":{"datum":191.34},
  "y":{"datum":30,"type":"quantitative","axis":null},"y2":{"datum":70}}},
{"data":{"values":[{"g":30},{"g":50},{"g":70}]},
 "mark":{"type":"rule","color":"#787B86","strokeDash":[4,4],"strokeWidth":1},
 "encoding":{"x":{"datum":-0.136,"type":"quantitative","axis":null},"x2":{"datum":191.34},
  "y":{"field":"g","type":"quantitative","axis":null}}},
{"data":{"name":"rsi"},
 "mark":{"type":"line","color":"#7E57C2","strokeWidth":1,"clip":true},
 "encoding":{"x":{"field":"i","type":"quantitative","scale":{"domain":[-0.136,202.82],"nice":false,"zero":false,"padding":0},
   "axis":{"values":[18,35,53,71,89,107,125,149,167,185],"grid":true,"gridColor":"#f0f3fa","ticks":false,"domain":false,"title":null,
    "labelExpr":"datum.value == 18 ? 'Apr' : datum.value == 35 ? '4' : datum.value == 53 ? '9' : datum.value == 71 ? '12' : datum.value == 89 ? '17' : datum.value == 107 ? '21' : datum.value == 125 ? '25' : datum.value == 149 ? 'May' : datum.value == 167 ? '5' : '9'",
    "labelFontWeight":{"condition":{"test":"datum.value == 18 || datum.value == 149","value":"bold"},"value":"normal"},
    "labelPadding":16,"labelBaseline":"middle","labelColor":"#131722","labelFontSize":14,"labelFont":"Noto Sans","labelOverlap":false,"labelFlush":false,"labelBound":false}},
  "y":{"field":"r","type":"quantitative","axis":null}}},
{"data":{"values":[{}]},"mark":{"type":"text","align":"left","baseline":"middle","fontSize":14,"color":"#131722","text":"RSI (14)"},
 "encoding":{"x":{"datum":1.43,"type":"quantitative","axis":null},"y":{"datum":69.05,"type":"quantitative","axis":null}}},
{"data":{"values":[{}]},"mark":{"type":"text","align":"left","baseline":"middle","fontSize":14,"color":"#7E57C2","text":"50.22"},
 "encoding":{"x":{"datum":10.49,"type":"quantitative","axis":null},"y":{"datum":69.05,"type":"quantitative","axis":null}}},
{"data":{"values":[{}]},"mark":{"type":"rect","color":"#7E57C2","cornerRadius":2},
 "encoding":{"x":{"datum":191.49,"type":"quantitative","axis":null},"x2":{"datum":199.65},"y":{"datum":45.71,"type":"quantitative","axis":null},"y2":{"datum":55.24}}},
{"data":{"values":[{}]},"mark":{"type":"text","align":"left","baseline":"middle","fontSize":14,"color":"#ffffff","text":"50.22"},
 "encoding":{"x":{"datum":193.0,"type":"quantitative","axis":null},"y":{"datum":50.48,"type":"quantitative","axis":null}}}
]
},
{
"width":1343,"height":34,
"data":{"values":[{}]},
"mark":{"type":"point","opacity":0},
"encoding":{"x":{"datum":100,"type":"quantitative","scale":{"domain":[-0.136,202.82],"nice":false,"zero":false,"padding":0},"axis":null}}
},
{
"width":1343,"height":44,
"view":{"stroke":null},
"layer":[
{"data":{"values":[{}]},"mark":{"type":"text","align":"left","baseline":"middle","fontSize":17,"fontWeight":900,"color":"#131722","text":"17"},
 "encoding":{"x":{"datum":-0.136,"type":"quantitative","scale":{"domain":[-0.136,202.82],"nice":false,"zero":false,"padding":0},"axis":null}}},
{"data":{"values":[{}]},"mark":{"type":"text","align":"left","baseline":"middle","fontSize":15,"color":"#131722","text":"TradingView"},
 "encoding":{"x":{"datum":3.19,"type":"quantitative","axis":null}}}
]
}
]
}
